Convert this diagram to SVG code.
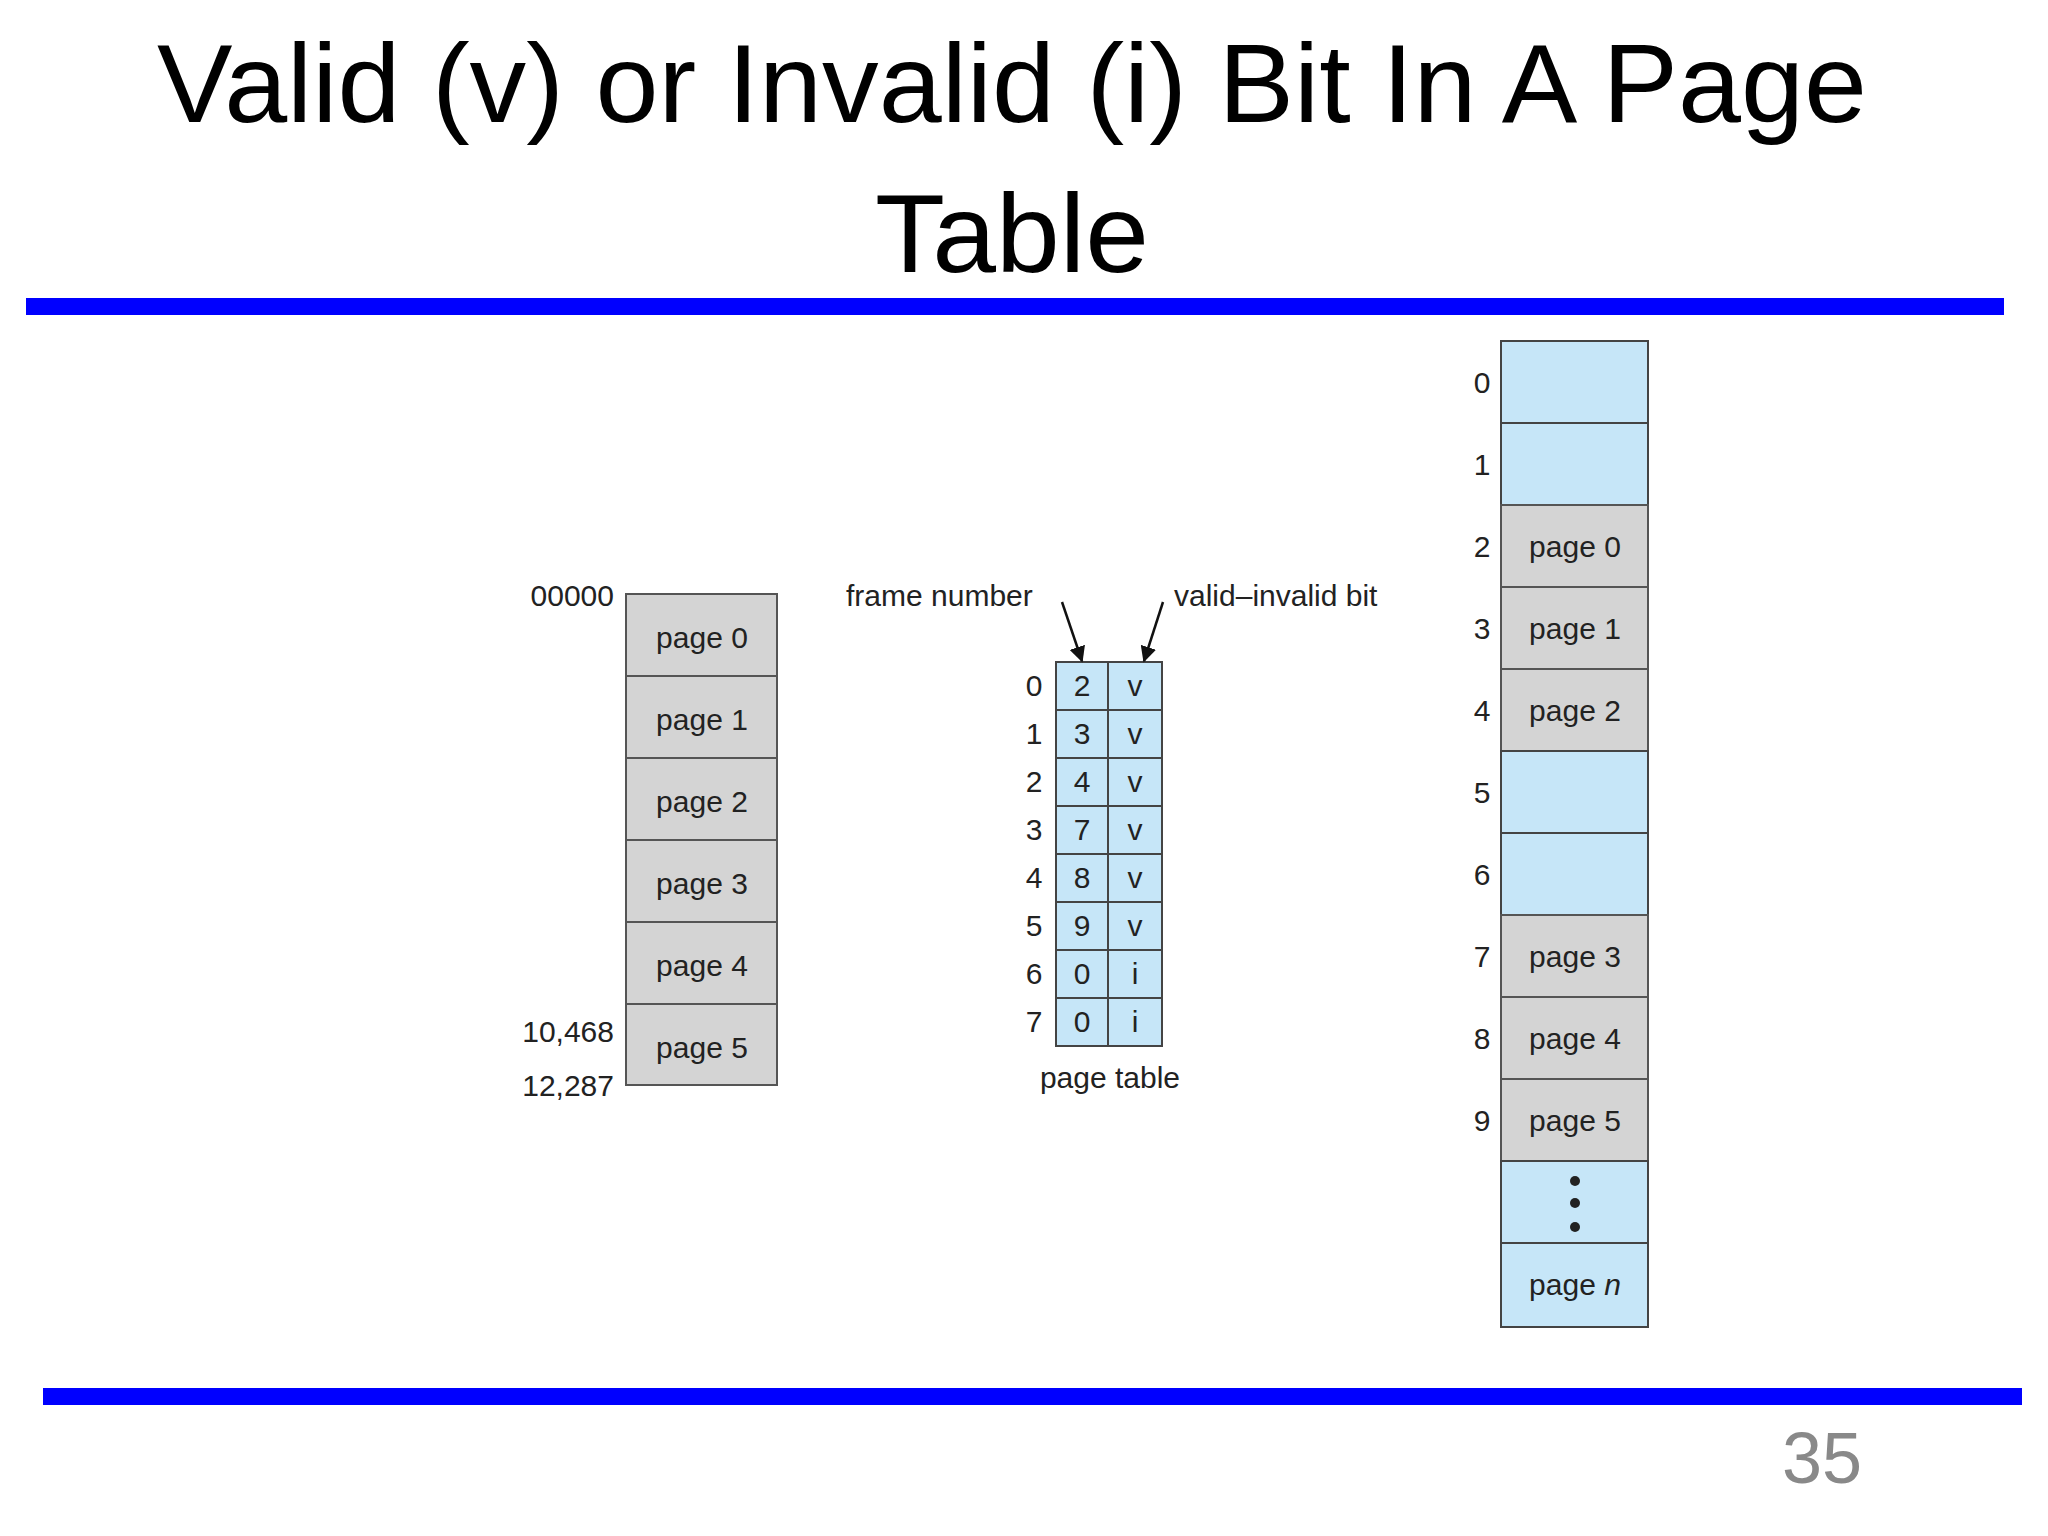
<svg xmlns="http://www.w3.org/2000/svg" width="2048" height="1536" viewBox="0 0 2048 1536">
<style>
.t{font-family:"Liberation Sans",Arial,sans-serif;fill:#222;font-size:30px}
.m{text-anchor:middle}
.e{text-anchor:end}
.g{fill:#d4d4d4;stroke:#555;stroke-width:2}
.b{fill:#c6e6f8;stroke:#444;stroke-width:2}
</style>
<defs><marker id="ah" markerWidth="10" markerHeight="10" refX="9" refY="5" orient="auto" markerUnits="userSpaceOnUse"><path d="M0,0 L10,5 L0,10 Z" fill="#111"/></marker>
<marker id="ah2" viewBox="0 0 10 10" markerWidth="16" markerHeight="16" refX="9" refY="5" orient="auto" markerUnits="userSpaceOnUse"><path d="M0,0 L10,5 L0,10 Z" fill="#111"/></marker></defs>
<rect width="2048" height="1536" fill="#fff"/>
<g id="title" font-family="'Liberation Sans',Arial,sans-serif" font-size="112" fill="#000" text-anchor="middle">
<text x="1012" y="122" textLength="1710" lengthAdjust="spacingAndGlyphs">Valid (v) or Invalid (i) Bit In A Page</text>
<text x="1012" y="272" textLength="274" lengthAdjust="spacingAndGlyphs">Table</text>
</g>
<rect x="26" y="298" width="1978" height="17" fill="#0000ff"/>
<rect x="43" y="1388" width="1979" height="17" fill="#0000ff"/>
<text x="1822" y="1483" font-family="'Liberation Sans',Arial,sans-serif" font-size="72" fill="#898989" text-anchor="middle">35</text>

<g id="logical-memory">
<rect class="g" x="626" y="594" width="151" height="82"/>
<rect class="g" x="626" y="676" width="151" height="82"/>
<rect class="g" x="626" y="758" width="151" height="82"/>
<rect class="g" x="626" y="840" width="151" height="82"/>
<rect class="g" x="626" y="922" width="151" height="82"/>
<rect class="g" x="626" y="1004" width="151" height="81"/>
<text class="t m" x="702" y="648">page 0</text>
<text class="t m" x="702" y="730">page 1</text>
<text class="t m" x="702" y="812">page 2</text>
<text class="t m" x="702" y="894">page 3</text>
<text class="t m" x="702" y="976">page 4</text>
<text class="t m" x="702" y="1058">page 5</text>
<text class="t e" x="614" y="606">00000</text>
<text class="t e" x="614" y="1042">10,468</text>
<text class="t e" x="614" y="1096">12,287</text>
</g>

<g id="page-table">
<rect class="b" x="1056" y="662" width="52" height="384"/>
<rect class="b" x="1108" y="662" width="54" height="384"/>
<path d="M1056 710H1162M1056 758H1162M1056 806H1162M1056 854H1162M1056 902H1162M1056 950H1162M1056 998H1162" stroke="#444" stroke-width="2"/>
<g class="t m">
<text x="1034" y="696">0</text><text x="1082" y="696">2</text><text x="1135" y="696">v</text>
<text x="1034" y="744">1</text><text x="1082" y="744">3</text><text x="1135" y="744">v</text>
<text x="1034" y="792">2</text><text x="1082" y="792">4</text><text x="1135" y="792">v</text>
<text x="1034" y="840">3</text><text x="1082" y="840">7</text><text x="1135" y="840">v</text>
<text x="1034" y="888">4</text><text x="1082" y="888">8</text><text x="1135" y="888">v</text>
<text x="1034" y="936">5</text><text x="1082" y="936">9</text><text x="1135" y="936">v</text>
<text x="1034" y="984">6</text><text x="1082" y="984">0</text><text x="1135" y="984">i</text>
<text x="1034" y="1032">7</text><text x="1082" y="1032">0</text><text x="1135" y="1032">i</text>
</g>
<text class="t" x="846" y="606">frame number</text>
<text class="t" x="1174" y="606">valid–invalid bit</text>
<text class="t m" x="1110" y="1088">page table</text>
</g>

<g id="connectors" stroke="#111" stroke-width="2.5" fill="none">
<line x1="1062" y1="602" x2="1082" y2="661" marker-end="url(#ah2)"/>
<line x1="1163" y1="602" x2="1144" y2="661" marker-end="url(#ah2)"/>
</g>

<g id="physical-memory">
<rect class="b" x="1501" y="341" width="147" height="82"/>
<rect class="b" x="1501" y="423" width="147" height="82"/>
<rect class="g" x="1501" y="505" width="147" height="82"/>
<rect class="g" x="1501" y="587" width="147" height="82"/>
<rect class="g" x="1501" y="669" width="147" height="82"/>
<rect class="b" x="1501" y="751" width="147" height="82"/>
<rect class="b" x="1501" y="833" width="147" height="82"/>
<rect class="g" x="1501" y="915" width="147" height="82"/>
<rect class="g" x="1501" y="997" width="147" height="82"/>
<rect class="g" x="1501" y="1079" width="147" height="82"/>
<rect class="b" x="1501" y="1161" width="147" height="82"/>
<rect class="b" x="1501" y="1243" width="147" height="84"/>
<g class="t m">
<text x="1482" y="393">0</text>
<text x="1482" y="475">1</text>
<text x="1482" y="557">2</text><text x="1575" y="557">page 0</text>
<text x="1482" y="639">3</text><text x="1575" y="639">page 1</text>
<text x="1482" y="721">4</text><text x="1575" y="721">page 2</text>
<text x="1482" y="803">5</text>
<text x="1482" y="885">6</text>
<text x="1482" y="967">7</text><text x="1575" y="967">page 3</text>
<text x="1482" y="1049">8</text><text x="1575" y="1049">page 4</text>
<text x="1482" y="1131">9</text><text x="1575" y="1131">page 5</text>
<text x="1575" y="1295">page <tspan font-style="italic">n</tspan></text>
</g>
<circle cx="1575" cy="1181" r="5" fill="#222"/>
<circle cx="1575" cy="1203" r="5" fill="#222"/>
<circle cx="1575" cy="1227" r="5" fill="#222"/>
</g>
</svg>
